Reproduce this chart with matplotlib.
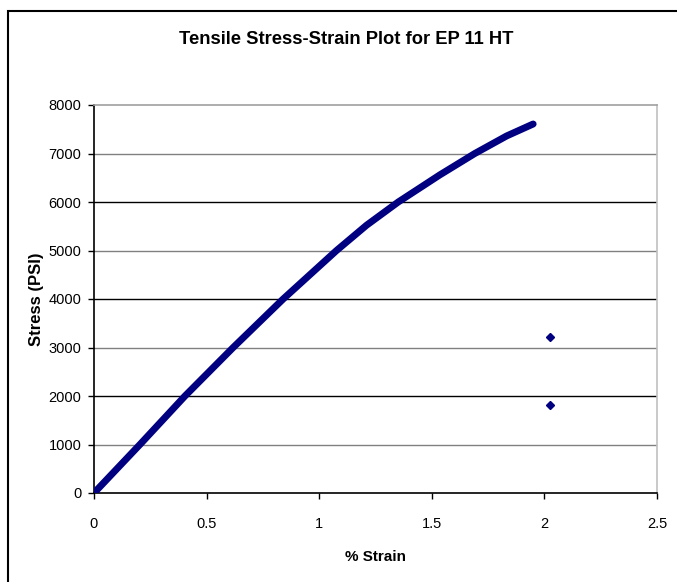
import numpy as np
import matplotlib
matplotlib.use("Agg")
import matplotlib.pyplot as plt
from matplotlib.patches import Rectangle

plt.rcParams['font.family'] = ['Liberation Sans', 'DejaVu Sans']

# stress-strain curve
strain = [0.0, 0.204, 0.404, 0.618, 0.840, 1.077, 1.21, 1.351, 1.536, 1.691, 1.832, 1.95]
stress = [0, 1000, 2000, 3000, 4000, 5000, 5520, 6000, 6560, 7000, 7361, 7608]
# stray points after break
out_strain = [2.027, 2.024]
out_stress = [3210, 1814]

xticks = [0, 0.5, 1, 1.5, 2, 2.5]
xticklabels = ['0', '0.5', '1', '1.5', '2', '2.5']
yticks = [0, 1000, 2000, 3000, 4000, 5000, 6000, 7000, 8000]

fig = plt.figure(figsize=(6.77, 5.82), dpi=100)
ax = fig.add_axes([94 / 677, 1 - 493 / 582, 563 / 677, 388 / 582])

# gridlines (reference shows them alternating dark / grey)
for v in yticks[1:-1]:
    ax.axhline(v, color='black' if v % 2000 == 0 else '#808080', lw=1.0, zorder=1)

ax.plot(strain, stress, color='#000080', lw=5, solid_capstyle='round',
        solid_joinstyle='round', zorder=3)
ax.plot(out_strain, out_stress, 'D', color='#000080', ms=4, zorder=3)

ax.set_xlim(0, 2.5)
ax.set_ylim(0, 8000)
ax.set_xticks(xticks)
ax.set_xticklabels(xticklabels)
ax.set_yticks(yticks)
ax.tick_params(direction='out', length=4, width=1, labelsize=10.5, color='black')
ax.tick_params(axis='x', pad=13)
ax.tick_params(axis='y', pad=5)

ax.spines['left'].set_color('black')
ax.spines['bottom'].set_color('black')
ax.spines['top'].set_color('#a0a0a0')
ax.spines['right'].set_color('#c0c0c0')
for s in ax.spines.values():
    s.set_linewidth(1.2)

ax.set_xlabel('% Strain', fontsize=11, fontweight='bold', labelpad=14)
ax.set_ylabel('Stress (PSI)', fontsize=12, fontweight='bold', labelpad=3)

fig.text(346 / 677, 1 - 39 / 582, 'Tensile Stress-Strain Plot for EP 11 HT',
         ha='center', va='center', fontsize=13.2, fontweight='bold')

# chart border
fig.patches.append(Rectangle((8 / 677, -0.1), 1.2, 1 - 11 / 582 + 0.1,
                             transform=fig.transFigure, fill=False,
                             edgecolor='black', lw=1.5))

fig.savefig('out.png', dpi=100)
